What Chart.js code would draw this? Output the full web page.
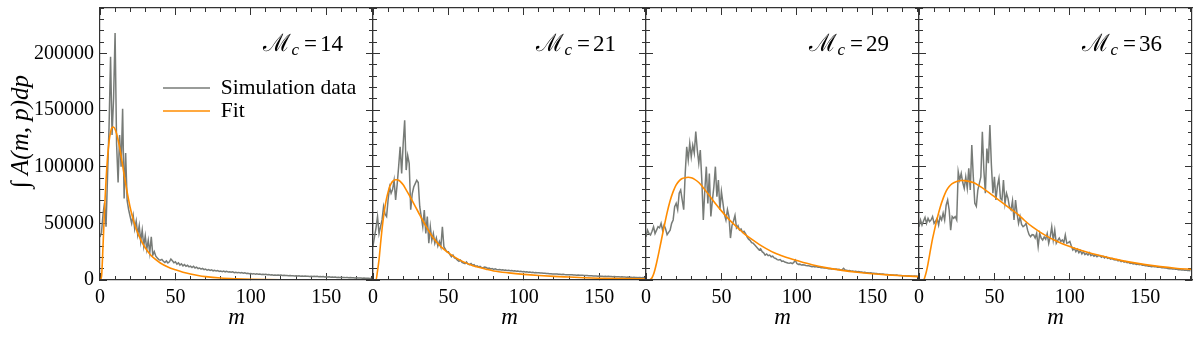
<!DOCTYPE html>
<html>
<head>
<meta charset="utf-8">
<script src="https://cdn.jsdelivr.net/npm/chart.js@4.4.1/dist/chart.umd.min.js"></script>
<style>
  html, body { margin: 0; padding: 0; background: #fff; }
  #wrap { position: relative; width: 1200px; height: 337px; }
  #wrap canvas { position: absolute; left: 0; top: 0; }
</style>
</head>
<body>
<div id="wrap">
  <canvas id="p0" width="1200" height="337"></canvas>
  <canvas id="p1" width="1200" height="337"></canvas>
  <canvas id="p2" width="1200" height="337"></canvas>
  <canvas id="p3" width="1200" height="337"></canvas>
</div>
<script>
// mass bins of the simulation histogram, m = 0 .. 180
const simMass = Array.from({ length: 181 }, (_, i) => i);

const sim14 = [
  38000, 42000, 58000, 68000, 47000, 92000, 135000, 197000, 128000, 160000,
  218000, 120000, 86000, 128000, 100000, 151000, 72000, 112000, 70000, 62000,
  56000, 50000, 57000, 45000, 52000, 40000, 48000, 34000, 44000, 30000,
  39000, 27000, 35000, 24000, 38000, 22000, 25000, 21000, 19500, 18000,
  17500, 18200, 16500, 15500, 16800, 15000, 16000, 18500, 17000, 15200,
  16000, 14000, 15100, 13200, 14300, 12500, 13600, 12100, 13000, 11600,
  12200, 11000, 12100, 10600, 11400, 10100, 10600, 9600, 10200, 9100,
  9600, 8600, 9200, 8500, 9000, 8100, 8600, 7900, 8400, 7600,
  8000, 7400, 7900, 7200, 7600, 7000, 7300, 6800, 7200, 6500,
  6800, 6400, 6700, 6200, 6500, 6000, 6300, 5700, 6000, 5600,
  5800, 5400, 5600, 5200, 5500, 5000, 5300, 4900, 5100, 4800,
  5000, 4600, 4800, 4500, 4700, 4300, 4500, 4200, 4400, 4100,
  4300, 4000, 4200, 3900, 4000, 3800, 4000, 3700, 3800, 3600,
  3800, 3500, 3700, 3400, 3600, 3300, 3500, 3300, 3400, 3200,
  3300, 3100, 3200, 3000, 3200, 2900, 3000, 2800, 3000, 2700,
  2900, 2600, 2800, 2500, 2700, 2400, 2600, 2300, 2500, 2300,
  2400, 2200, 2300, 2100, 2200, 2000, 2100, 1900, 2000, 1800,
  1900, 1800, 1700, 1800, 1600, 1700, 1500, 1600, 1500, 1400, 1500
];
const sim21 = [
  30000, 38000, 46000, 56000, 41000, 47000, 53000, 64700, 58000, 56000,
  70600, 82000, 76500, 80000, 88000, 70600, 84000, 100000, 117600, 94000,
  120000, 141000, 97000, 110000, 103000, 62000, 76000, 82000, 85000, 88000,
  86000, 64700, 56000, 47000, 61800, 41000, 56000, 32400, 47000, 35000,
  41000, 32400, 37000, 30000, 34000, 29400, 47000, 29400, 27000, 25000,
  25000, 22500, 20500, 22000, 19500, 19000, 17500, 16500, 17500, 15500,
  15000, 14500, 16000, 14000, 13500, 14500, 13000, 13500, 12000, 12500,
  11500, 12000, 11000, 10800, 11500, 11000, 10200, 10600, 9800, 10200,
  9400, 9800, 9300, 9000, 9200, 8800, 9000, 8600, 8800, 8300,
  8500, 8200, 8300, 7900, 8100, 7700, 7900, 7500, 7700, 7300,
  7400, 7100, 7200, 6900, 7000, 6700, 6800, 6500, 6600, 6300,
  6400, 6100, 6200, 5900, 6000, 5700, 5800, 5500, 5600, 5400,
  5400, 5200, 5300, 5000, 5100, 4900, 5000, 4800, 4700, 4600,
  4700, 4600, 4700, 4400, 4500, 4300, 4400, 4200, 4100, 4200,
  4000, 3900, 4000, 3800, 3700, 3800, 3600, 3500, 3600, 3400,
  3500, 3300, 3400, 3200, 3300, 3100, 3200, 3000, 3100, 2900,
  3000, 2900, 2800, 2900, 2700, 2800, 2600, 2700, 2500, 2600,
  2400, 2500, 2300, 2400, 2200, 2300, 2100, 2200, 2000, 2100, 2000
];
const sim29 = [
  38000, 44000, 41000, 39700, 43000, 47000, 41000, 44000, 47000, 46000,
  50000, 44000, 48500, 45000, 40000, 42000, 44000, 50000, 53000, 64700,
  67600, 62000, 76500, 79400, 70600, 62000, 94000, 117600, 106000, 120600,
  108800, 119000, 112000, 130900, 114700, 103000, 114700, 88200, 53000, 79400,
  100000, 67600, 94000, 56000, 70000, 82300, 100000, 73500, 88200, 61800,
  78000, 68000, 58000, 53000, 62000, 56000, 37000, 48000, 52000, 57000,
  46000, 48000, 44000, 45000, 42000, 43000, 41000, 38000, 36000, 35000,
  33000, 32500, 31000, 29500, 28000, 26500, 27500, 25000, 24000, 22000,
  23000, 21500, 22000, 20500, 21000, 19500, 19000, 18000, 17600, 18000,
  16500, 16800, 15800, 15500, 15000, 14700, 15200, 14500, 15500, 17600,
  14500, 13800, 14000, 13200, 13500, 13200, 12800, 12500, 12600, 12200,
  11800, 12000, 11500, 11800, 11200, 11400, 10800, 11000, 10500, 10600,
  10300, 10000, 10200, 9800, 10000, 9500, 9700, 9200, 9400, 8800,
  9000, 10300, 8800, 8600, 8200, 8400, 7800, 8000, 7600, 7700,
  7300, 7400, 7000, 7100, 6700, 6800, 6400, 6500, 6200, 6300,
  5900, 6000, 5700, 5800, 5400, 5500, 5200, 5300, 5000, 4900,
  4800, 4600, 4700, 4400, 4500, 4200, 4300, 4100, 4000, 3900,
  3800, 3700, 3800, 3600, 3700, 3500, 3600, 3400, 3500, 3400, 3500
];
const sim36 = [
  47000, 53000, 48500, 52000, 55300, 50000, 54400, 51500, 53000, 56000,
  50000, 52000, 54400, 48500, 56000, 53000, 59000, 53000, 66000, 70600,
  61800, 44000, 56000, 54400, 56000, 53000, 95600, 88200, 94000, 86000,
  80900, 91000, 80900, 98500, 79400, 119000, 91000, 67600, 65000, 79400,
  85000, 91000, 130800, 97000, 76500, 116000, 103000, 136800, 101500, 76500,
  91000, 70600, 83000, 89700, 72000, 70600, 88200, 67600, 76500, 72000,
  64000, 61800, 70000, 53000, 70600, 58900, 50000, 56000, 49000, 47000,
  48000, 50000, 44000, 40000, 38200, 40000, 39700, 37000, 41200, 29400,
  41200, 37000, 35300, 38000, 36000, 41000, 32400, 38000, 47000, 35300,
  44000, 32400, 35000, 37000, 34000, 35300, 33000, 39700, 32400, 33000,
  34000, 30000, 26500, 28000, 25000, 27000, 24000, 26000, 23000, 25000,
  22500, 23500, 22000, 24000, 21500, 22500, 21000, 22000, 20500, 21500,
  21200, 20000, 21000, 19500, 20500, 19100, 19500, 18500, 19000, 18000,
  17600, 18000, 16800, 17500, 16200, 16800, 15800, 16200, 15200, 15600,
  14700, 15000, 14200, 14600, 13800, 14000, 13500, 13800, 13000, 13200,
  12600, 12800, 12200, 12400, 11800, 12000, 11600, 11800, 11300, 11500,
  11200, 10800, 11000, 10500, 10600, 10200, 10000, 10200, 9700, 9800,
  9400, 9500, 9100, 9200, 8800, 9000, 8600, 8700, 8400, 8300, 8200
];

// fitted curves, sampled where they bend
const fitMass14 = [0, 1, 2, 3, 4, 5, 6, 7, 8, 9, 10, 11, 12, 13, 14, 15, 16, 17, 18, 19, 20, 22, 24, 26, 28, 30, 33, 36, 40, 45, 50, 55, 60, 65, 70, 80, 90, 100, 110, 120, 140, 160, 181];
const fit14 = [0, 3000, 30000, 62000, 88000, 108000, 122000, 130500, 134500, 135000, 133000, 129000, 123500, 117000, 109500, 101500, 93000, 85000, 77500, 70500, 64000, 53500, 45000, 38500, 33000, 28500, 23000, 19000, 15000, 11500, 9000, 6900, 5300, 4000, 3000, 1700, 1000, 550, 300, 170, 50, 15, 5];

const fitMass21 = [0, 2, 3, 4, 5, 6, 7, 8, 9, 10, 11, 12, 13, 14, 15, 16, 17, 18, 20, 22, 24, 26, 28, 30, 33, 36, 40, 45, 50, 55, 60, 65, 70, 75, 80, 90, 100, 110, 120, 130, 140, 150, 165, 181];
const fit21 = [0, 0, 8000, 18000, 32000, 45000, 56000, 65000, 72000, 77500, 82000, 85000, 87000, 88000, 88500, 88500, 88000, 87000, 84000, 79500, 75000, 70000, 65000, 60000, 52500, 45500, 37000, 29500, 24000, 19500, 16000, 13300, 11200, 9500, 8000, 6300, 5000, 4000, 3200, 2600, 2000, 1600, 1200, 900];

const fitMass29 = [0, 2, 3, 4, 5, 6, 7, 8, 9, 10, 12, 14, 16, 18, 20, 22, 24, 26, 28, 30, 32, 35, 38, 42, 46, 50, 55, 60, 65, 70, 75, 80, 85, 90, 95, 100, 110, 120, 130, 140, 150, 160, 170, 181];
const fit29 = [0, 0, 500, 2000, 5000, 9500, 15000, 21000, 27500, 34000, 47000, 59500, 70000, 78000, 84000, 87500, 89500, 90300, 90600, 90200, 89000, 86000, 81500, 74500, 67500, 61000, 53500, 47000, 41000, 36000, 31500, 27500, 24000, 21500, 19200, 17200, 13500, 10700, 8500, 6800, 5500, 4500, 3700, 3000];

const fitMass36 = [0, 3, 4, 5, 6, 7, 8, 9, 10, 12, 14, 16, 18, 20, 22, 25, 28, 30, 33, 36, 40, 45, 50, 55, 60, 65, 70, 75, 80, 85, 90, 95, 100, 105, 110, 120, 130, 140, 150, 160, 170, 181];
const fit36 = [0, 0, 3000, 8000, 14500, 22000, 29500, 36500, 42500, 54000, 64000, 72000, 78500, 82500, 85000, 87000, 87800, 87700, 87000, 86000, 83000, 78500, 73500, 68500, 63500, 58500, 52500, 47000, 42500, 38500, 35000, 32000, 29500, 27300, 25200, 21600, 18400, 15800, 13600, 11800, 10400, 9300];

const massLabels = ['14', '21', '29', '36'];
const seriesNames = ['Simulation data', 'Fit'];
const xTicks = [0, 50, 100, 150];
const yTicks = [0, 50000, 100000, 150000, 200000];
const xRange = [0, 181];
const yRange = [0, 240000];

const SERIF = '"Liberation Serif", "DejaVu Serif", serif';
const FRAME = '#333333';
const SIM_COLOR = '#777b77';
const FIT_COLOR = '#ff8c00';
const EDGES = [100, 373, 646, 919, 1192];

Chart.defaults.font.family = SERIF;
Chart.defaults.color = '#000';

function toPoints(xs, ys) {
  return ys.map((y, i) => ({ x: xs[i], y: y }));
}

// one side of the frame: inward ticks, labels only where asked.
// major sides take their tick values from a list, minor sides use a step
function axis(position, major, range, ticksOrStep, size, labels, title) {
  const horizontal = position === 'top' || position === 'bottom';
  const cfg = {
    type: 'linear',
    position: position,
    axis: horizontal ? 'x' : 'y',
    min: range[0],
    max: range[1],
    weight: major ? 1 : 0,
    grid: { display: true, drawOnChartArea: false, drawTicks: true, tickLength: major ? -7 : -4, tickWidth: 1, tickColor: FRAME },
    border: { display: major, color: FRAME, width: 1.2, z: 2 },
    ticks: {
      display: labels, includeBounds: false, autoSkip: false, maxRotation: 0,
      padding: 13, color: '#000', font: { size: 20 },
      callback: (v) => String(v)
    },
    title: title || { display: false },
    afterFit(scale) {
      scale.paddingLeft = scale.paddingRight = scale.paddingTop = scale.paddingBottom = 0;
      if (horizontal) scale.height = size; else scale.width = size;
    }
  };
  if (Array.isArray(ticksOrStep)) {
    cfg.afterBuildTicks = (scale) => { scale.ticks = ticksOrStep.map((v) => ({ value: v })); };
  } else {
    cfg.ticks.stepSize = ticksOrStep;
  }
  return cfg;
}

const massLabel = {
  id: 'massLabel',
  afterDraw(chart, args, opts) {
    const { ctx, chartArea } = chart;
    const base = 51;
    let x = chartArea.right - 30;
    ctx.save();
    ctx.fillStyle = '#000';
    ctx.textAlign = 'right';
    ctx.textBaseline = 'alphabetic';
    ctx.font = '23px ' + SERIF;
    ctx.fillText(opts.text, x, base);
    x -= ctx.measureText(opts.text).width + 3;
    ctx.fillText('=', x, base);
    x -= ctx.measureText('=').width + 5;
    ctx.font = 'italic 17px ' + SERIF;
    ctx.fillText('c', x, base + 4);
    x -= ctx.measureText('c').width;
    ctx.font = '24px "DejaVu Serif", serif';
    ctx.fillText('\u2133', x, base);
    ctx.restore();
  }
};

// put the legend where it sits in the figure
const legendSpot = {
  id: 'legendSpot',
  afterLayout(chart, args, opts) {
    const lg = chart.legend;
    if (!lg || opts.left === undefined) return;
    lg.left = opts.left;
    lg.top = opts.top;
    lg.right = lg.left + lg.width;
    lg.bottom = lg.top + lg.height;
  }
};

const panels = [
  { sim: sim14, fitMass: fitMass14, fit: fit14 },
  { sim: sim21, fitMass: fitMass21, fit: fit21 },
  { sim: sim29, fitMass: fitMass29, fit: fit29 },
  { sim: sim36, fitMass: fitMass36, fit: fit36 }
];

panels.forEach((p, i) => {
  const first = i === 0;
  const xTitle = { display: true, text: 'm', color: '#000', font: { size: 23, style: 'italic' }, padding: { top: 0, bottom: 5 } };
  const yTitle = { display: true, text: '\u2002\u2002\u222B A(m, p)dp', color: '#000', font: { size: 25, style: 'italic' }, padding: { top: 6, bottom: 0 } };

  new Chart(document.getElementById('p' + i), {
    type: 'line',
    data: {
      datasets: [
        { label: seriesNames[0], data: toPoints(simMass, p.sim), xAxisID: 'x', yAxisID: 'y',
          borderColor: SIM_COLOR, backgroundColor: SIM_COLOR, borderWidth: 1.5, pointRadius: 0, tension: 0, order: 1 },
        { label: seriesNames[1], data: toPoints(p.fitMass, p.fit), xAxisID: 'x', yAxisID: 'y',
          borderColor: FIT_COLOR, backgroundColor: FIT_COLOR, borderWidth: 1.6, pointRadius: 0, cubicInterpolationMode: 'monotone', order: 0 }
      ]
    },
    options: {
      responsive: false,
      animation: false,
      devicePixelRatio: 1,
      events: [],
      layout: { padding: { left: first ? 0 : EDGES[i], right: 1200 - EDGES[i + 1], top: 8, bottom: 0 } },
      scales: {
        x: axis('bottom', true, xRange, xTicks, 57, true, xTitle),
        xMinor: axis('bottom', false, xRange, 10, 0, false),
        xTop: axis('top', true, xRange, xTicks, 0, false),
        xTopMinor: axis('top', false, xRange, 10, 0, false),
        y: axis('left', true, yRange, yTicks, first ? 100 : 0, first, first ? yTitle : null),
        yMinor: axis('left', false, yRange, 10000, 0, false),
        yRight: axis('right', true, yRange, yTicks, 0, false),
        yRightMinor: axis('right', false, yRange, 10000, 0, false)
      },
      plugins: {
        legend: first ? {
          display: true,
          position: 'chartArea',
          align: 'start',
          labels: {
            usePointStyle: true, pointStyle: 'line', pointStyleWidth: 47,
            padding: 1.5, color: '#000', font: { size: 21.5 },
            sort: (a, b) => a.datasetIndex - b.datasetIndex
          }
        } : { display: false },
        tooltip: { enabled: false },
        massLabel: { text: massLabels[i] },
        legendSpot: first ? { left: 161.5, top: 75.75 } : {}
      }
    },
    plugins: [massLabel, legendSpot]
  });
});
</script>
</body>
</html>
